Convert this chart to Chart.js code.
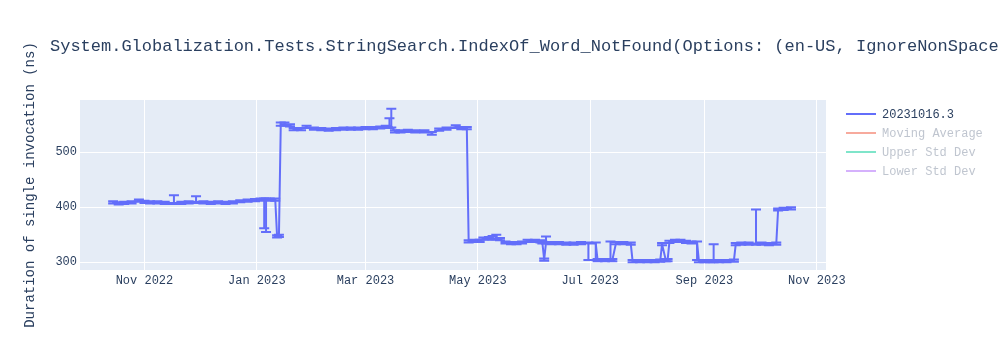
<!DOCTYPE html>
<html>
<head>
<meta charset="utf-8">
<script src="https://cdn.jsdelivr.net/npm/chart.js@4.4.1/dist/chart.umd.min.js"></script>
<style>
  html, body { margin: 0; padding: 0; background: #fff; }
  #wrap { width: 1000px; height: 350px; position: relative; }
</style>
</head>
<body>
<div id="wrap"><canvas id="perf-chart"></canvas></div>
<script>
// run dates, mean duration (ns) and error bar sizes
const runDates = [
  "2022-10-15", "2022-10-18", "2022-10-21", "2022-10-25", "2022-10-29", "2022-11-01", "2022-11-04",
  "2022-11-08", "2022-11-12", "2022-11-17", "2022-11-21", "2022-11-25", "2022-11-29", "2022-12-03",
  "2022-12-07", "2022-12-11", "2022-12-15", "2022-12-19", "2022-12-23", "2022-12-27", "2022-12-31",
  "2023-01-03", "2023-01-05", "2023-01-06", "2023-01-08", "2023-01-11", "2023-01-12", "2023-01-13",
  "2023-01-14", "2023-01-16", "2023-01-19", "2023-01-21", "2023-01-25", "2023-01-28", "2023-02-01",
  "2023-02-05", "2023-02-09", "2023-02-13", "2023-02-17", "2023-02-21", "2023-02-25", "2023-03-01",
  "2023-03-05", "2023-03-09", "2023-03-12", "2023-03-14", "2023-03-15", "2023-03-17", "2023-03-20",
  "2023-03-24", "2023-03-28", "2023-04-02", "2023-04-06", "2023-04-10", "2023-04-14", "2023-04-19",
  "2023-04-22", "2023-04-25", "2023-04-26", "2023-04-29", "2023-05-02", "2023-05-04", "2023-05-07",
  "2023-05-09", "2023-05-11", "2023-05-13", "2023-05-16", "2023-05-19", "2023-05-22", "2023-05-25",
  "2023-05-28", "2023-06-01", "2023-06-04", "2023-06-05", "2023-06-06", "2023-06-07", "2023-06-10",
  "2023-06-14", "2023-06-18", "2023-06-22", "2023-06-26", "2023-06-30", "2023-07-04", "2023-07-05",
  "2023-07-09", "2023-07-12", "2023-07-13", "2023-07-15", "2023-07-19", "2023-07-23", "2023-07-24",
  "2023-07-28", "2023-08-01", "2023-08-05", "2023-08-08", "2023-08-09", "2023-08-11", "2023-08-12",
  "2023-08-13", "2023-08-16", "2023-08-19", "2023-08-22", "2023-08-25", "2023-08-28", "2023-08-29",
  "2023-09-01", "2023-09-04", "2023-09-06", "2023-09-09", "2023-09-13", "2023-09-17", "2023-09-18",
  "2023-09-21", "2023-09-25", "2023-09-29", "2023-10-02", "2023-10-06", "2023-10-10", "2023-10-11",
  "2023-10-14", "2023-10-18"
];
const durations = [
  409, 407, 408, 409, 412, 410, 409,
  409, 408, 408, 408, 409, 410, 409,
  408, 409, 408, 409, 411, 412, 413,
  414, 414, 414, 414, 414, 347, 348,
  551, 551, 549, 542, 542, 546, 543,
  542, 541, 542, 543, 543, 543, 544,
  544, 545, 546, 546, 547, 538, 538,
  539, 538, 538, 535, 541, 543, 546,
  544, 544, 338, 339, 339, 343, 344,
  343, 344, 342, 336, 335, 335, 336,
  339, 339, 338, 336, 305, 336, 335,
  335, 334, 334, 335, 334, 334, 304,
  304, 305, 304, 335, 335, 334, 302,
  302, 302, 302, 303, 333, 304, 304,
  337, 339, 339, 337, 336, 336, 302,
  302, 302, 302, 302, 302, 303, 333,
  334, 334, 334, 334, 333, 334, 396,
  397, 398
];
const errorPlus = [
  2, 2, 2, 2, 2, 2, 2,
  2, 2, 14, 2, 2, 10, 2,
  2, 2, 2, 2, 2, 2, 2,
  2, 2, 2, 2, 2, 2, 2,
  3, 3, 2, 2, 2, 2, 2,
  2, 2, 2, 2, 2, 2, 2,
  2, 2, 2, 16, 32, 2, 2,
  2, 2, 2, 2, 2, 2, 3,
  2, 2, 2, 2, 2, 2, 2,
  5, 6, 2, 2, 2, 2, 2,
  2, 2, 2, 2, 2, 11, 2,
  2, 2, 2, 2, 2, 2, 2,
  2, 33, 2, 2, 2, 2, 2,
  2, 2, 2, 2, 2, 2, 2,
  2, 2, 2, 2, 2, 2, 2,
  2, 2, 31, 2, 2, 2, 2,
  2, 2, 62, 2, 2, 2, 2,
  2, 2
];
const errorMinus = [
  2, 2, 2, 2, 2, 2, 2,
  2, 2, 2, 2, 2, 2, 2,
  2, 2, 2, 2, 2, 2, 2,
  2, 52, 59, 2, 2, 2, 2,
  3, 3, 2, 2, 2, 2, 2,
  2, 2, 2, 2, 2, 2, 2,
  2, 2, 2, 2, 2, 2, 2,
  2, 2, 2, 3, 2, 2, 2,
  2, 2, 2, 2, 2, 2, 2,
  2, 2, 2, 2, 2, 2, 2,
  2, 2, 2, 2, 2, 2, 2,
  2, 2, 2, 2, 30, 30, 2,
  2, 2, 2, 2, 2, 2, 2,
  2, 2, 2, 2, 2, 2, 2,
  2, 2, 2, 2, 2, 32, 2,
  2, 2, 2, 2, 2, 2, 2,
  2, 2, 2, 2, 2, 2, 2,
  2, 2
];

const xRange = ["2022-09-27", "2023-11-06"];
const xTickDates = ["2022-11-01", "2023-01-01", "2023-03-01", "2023-05-01", "2023-07-01", "2023-09-01", "2023-11-01"];
const xTickLabels = ["Nov 2022", "Jan 2023", "Mar 2023", "May 2023", "Jul 2023", "Sep 2023", "Nov 2023"];
const yTicks = [300, 400, 500];
const yRange = [286, 595];

const seriesLabels = ["20231016.3", "Moving Average", "Upper Std Dev", "Lower Std Dev"];
const seriesColors = ["#636efa", "#EF553B", "#00cc96", "#ab63fa"];

const chartTitle = "System.Globalization.Tests.StringSearch.IndexOf_Word_NotFound(Options: (en-US, IgnoreNonSpace";
const yTitle = "Duration of single invocation (ns)";

const MONO = "'Courier New', 'Liberation Mono', monospace";
const TEXT_COLOR = "#2a3f5f";

const plotBackground = {
  id: "plotBackground",
  beforeDraw(chart) {
    const { ctx, chartArea: a } = chart;
    ctx.save();
    ctx.fillStyle = "#e5ecf6";
    ctx.fillRect(a.left, a.top, a.right - a.left, a.bottom - a.top);
    ctx.restore();
  }
};

// error bars with caps for the first series
const errorBars = {
  id: "errorBars",
  afterDatasetsDraw(chart) {
    const { ctx, scales } = chart;
    const meta = chart.getDatasetMeta(0);
    if (meta.hidden) return;
    ctx.save();
    ctx.strokeStyle = seriesColors[0];
    ctx.lineWidth = 2;
    meta.data.forEach((pt, i) => {
      const top = scales.y.getPixelForValue(durations[i] + errorPlus[i]);
      const bottom = scales.y.getPixelForValue(durations[i] - errorMinus[i]);
      const x = pt.x;
      ctx.beginPath();
      ctx.moveTo(x, top);
      ctx.lineTo(x, bottom);
      ctx.moveTo(x - 5, top);
      ctx.lineTo(x + 5, top);
      ctx.moveTo(x - 5, bottom);
      ctx.lineTo(x + 5, bottom);
      ctx.stroke();
    });
    ctx.restore();
  }
};

const titleText = {
  id: "titleText",
  afterDraw(chart) {
    const { ctx } = chart;
    ctx.save();
    ctx.font = `17px ${MONO}`;
    ctx.fillStyle = TEXT_COLOR;
    ctx.textBaseline = "middle";
    ctx.textAlign = "left";
    ctx.fillText(chartTitle, 50, 46);
    ctx.restore();
  }
};

// plotly-like legend: hidden traces are drawn faded
const sideLegend = {
  id: "sideLegend",
  afterDraw(chart) {
    const { ctx } = chart;
    ctx.save();
    ctx.font = `12px ${MONO}`;
    ctx.textBaseline = "middle";
    chart.data.datasets.forEach((ds, i) => {
      const y = 114 + i * 19;
      ctx.globalAlpha = chart.isDatasetVisible(i) ? 1 : 0.5;
      ctx.strokeStyle = ds.borderColor;
      ctx.lineWidth = 2;
      ctx.beginPath();
      ctx.moveTo(846, y);
      ctx.lineTo(876, y);
      ctx.stroke();
      ctx.fillStyle = chart.isDatasetVisible(i) ? TEXT_COLOR : "#7f8ba0";
      ctx.fillText(ds.label, 882, y + 1);
    });
    ctx.restore();
  }
};

new Chart(document.getElementById("perf-chart"), {
  type: "line",
  data: {
    datasets: seriesLabels.map((label, i) => ({
      label,
      data: i === 0 ? runDates.map((d, k) => ({ x: Date.parse(d), y: durations[k] })) : [],
      borderColor: seriesColors[i],
      backgroundColor: seriesColors[i],
      borderWidth: 2,
      borderJoinStyle: "round",
      borderCapStyle: "round",
      pointRadius: 0,
      tension: 0,
      hidden: i !== 0
    }))
  },
  options: {
    responsive: true,
    maintainAspectRatio: false,
    animation: false,
    layout: { padding: { top: 100, right: 174, left: 0, bottom: 0 } },
    plugins: {
      legend: { display: false },
      tooltip: { enabled: false },
      title: { display: false }
    },
    scales: {
      x: {
        type: "linear",
        min: Date.parse(xRange[0]),
        max: Date.parse(xRange[1]),
        afterBuildTicks: (scale) => {
          scale.ticks = xTickDates.map((d) => ({ value: Date.parse(d) }));
        },
        afterFit: (scale) => { scale.height = 80; },
        border: { display: false },
        grid: { color: "#ffffff", lineWidth: 1, drawTicks: false },
        ticks: {
          padding: 4,
          maxRotation: 0,
          autoSkip: false,
          color: TEXT_COLOR,
          font: { family: MONO, size: 12 },
          callback: (value, index) => xTickLabels[index]
        }
      },
      y: {
        min: yRange[0],
        max: yRange[1],
        afterBuildTicks: (scale) => {
          scale.ticks = yTicks.map((v) => ({ value: v }));
        },
        afterFit: (scale) => { scale.width = 80; },
        border: { display: false },
        grid: { color: "#ffffff", lineWidth: 1, drawTicks: false },
        ticks: {
          padding: 3,
          color: TEXT_COLOR,
          font: { family: MONO, size: 12 }
        },
        title: {
          display: true,
          text: yTitle,
          color: TEXT_COLOR,
          font: { family: MONO, size: 14 },
          padding: { top: 22, bottom: 0 }
        }
      }
    }
  },
  plugins: [plotBackground, errorBars, titleText, sideLegend]
});
</script>
</body>
</html>
